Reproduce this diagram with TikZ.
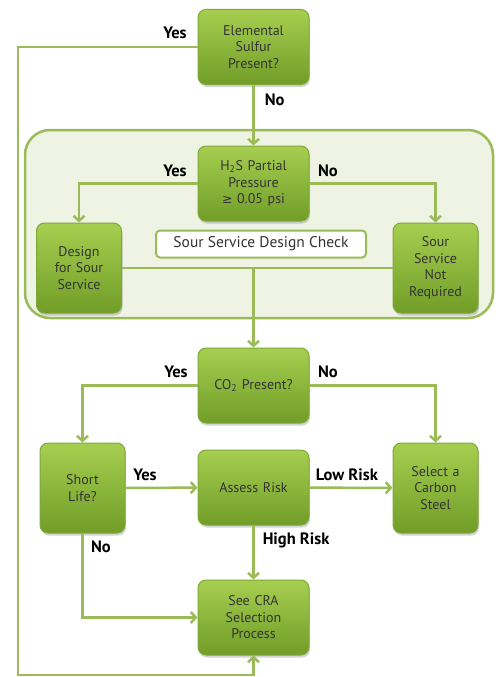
\documentclass[tikz,border=0pt]{standalone}
\usepackage{fontspec}
\setmainfont{PT Sans}
\newfontfamily\symfont{DejaVu Sans}
\usepackage{xcolor}
\usepackage{tikz}
\usetikzlibrary{shapes, arrows.meta, shadows, positioning}

\definecolor{linegreen}{HTML}{9BBB59}
\definecolor{boxtop}{HTML}{A6CF50}
\definecolor{boxbottom}{HTML}{719D28}
\definecolor{boxedge}{HTML}{7FA83A}
\definecolor{groupfill}{HTML}{EEF3E3}
\definecolor{boxtext}{HTML}{333333}

\begin{document}
\begin{tikzpicture}[x=1pt,y=-1pt,>={Straight Barb[length=5pt,width=11pt]},
      line width=2.5pt,
      main node/.style={rectangle,rounded corners=8pt,draw=boxedge,line width=1pt,
        top color=boxtop,bottom color=boxbottom,text=boxtext,align=center,
        font=\fontsize{14}{16.5}\selectfont,minimum width=111pt,minimum height=75pt,
        text width=104pt,inner sep=0pt,
        drop shadow={opacity=0.35,shadow xshift=1pt,shadow yshift=-2.5pt}},
      side node/.style={main node,minimum width=85pt,minimum height=90pt,text width=80pt},
      check node/.style={rectangle,rounded corners=4pt,draw=linegreen,line width=2pt,
        fill=white,text=boxtext,font=\fontsize{15.5}{17}\selectfont,
        minimum width=210pt,minimum height=27pt,inner sep=0pt},
      group node/.style={rectangle,rounded corners=25pt,draw=linegreen,line width=2.5pt,
        fill=groupfill,minimum width=468pt,minimum height=188pt},
      other node/.style={font=\bfseries\fontsize{16.5}{18}\selectfont,text=black,inner sep=0pt},
      link/.style={draw=linegreen,line width=2.5pt}]

    \useasboundingbox (0,0) rectangle (500,677);

    \node[group node] (group) at (259,224) {};

    \node[main node] (sulfur) at (253.5,47) {Elemental\\Sulfur\\Present?};
    \node[main node] (h2s) at (253.5,183.5) {H\textsubscript{2}S Partial\\Pressure\\{\symfont\fontsize{12.5}{16.5}\selectfont ≥} 0.05 psi};
    \node[side node] (design) at (79,268) {Design\\for Sour\\Service};
    \node[check node] (check) at (261,244) {Sour Service Design Check};
    \node[side node] (notreq) at (435.5,268) {Sour\\Service\\Not\\Required};
    \node[main node] (co2) at (253.5,385.5) {CO\textsubscript{2} Present?};
    \node[side node] (short) at (82.5,488) {Short\\Life?};
    \node[main node] (assess) at (253.5,487.5) {Assess Risk};
    \node[side node] (select) at (435.5,488) {Select a\\Carbon\\Steel};
    \node[main node] (cra) at (253.5,617.5) {See CRA\\Selection\\Process};
    \coordinate (join) at (co2 |- design.east);
    \coordinate (loop) at (18,675);

    \path[link,->]
        (sulfur) edge node [other node,right,pos=0.25,xshift=10pt] {No} (h2s)
        (short) edge node [other node,above,pos=0.27,yshift=6pt] {Yes} (assess)
        (assess) edge node [other node,above,pos=0.45,yshift=6pt] {Low Risk} (select)
        (assess) edge node [other node,right,pos=0.28,xshift=8pt] {High Risk} (cra)
    ;
    \draw[link] (design) -- (notreq);
    \draw[link,->] (join) -- (co2);
    \draw[link,->] (sulfur.west) -| (loop) -| (cra.south);
    \draw[link,->] (h2s.west) -| (design.north);
    \draw[link,->] (h2s.east) -| (notreq.north);
    \draw[link,->] (co2.west) -| (short.north);
    \draw[link,->] (co2.east) -| (select.north);
    \draw[link,->] (short.south) |- (cra.west);

    \node[other node] at (175,33) {Yes};
    \node[other node] at (175,171) {Yes};
    \node[other node] at (328,171) {No};
    \node[other node] at (176,372) {Yes};
    \node[other node] at (328,372) {No};
    \node[other node] at (101,547) {No};
\end{tikzpicture}
\end{document}
